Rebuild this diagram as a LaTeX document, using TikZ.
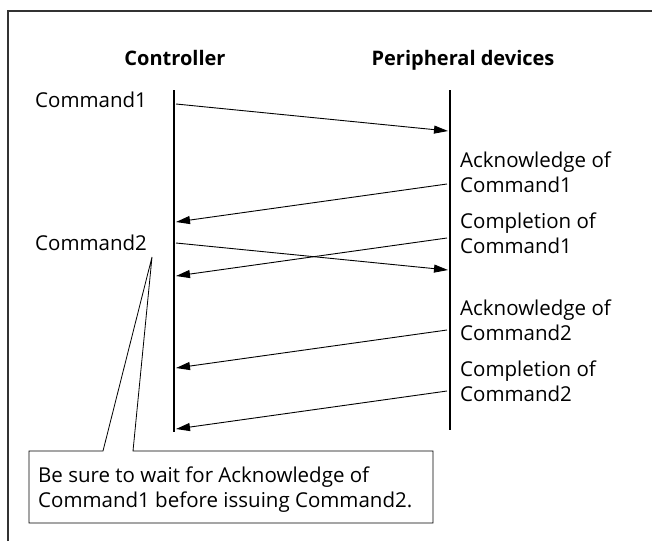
\documentclass[tikz,border=0pt]{standalone}
\usepackage{fontspec}
\setmainfont{Open Sans}
\usetikzlibrary{arrows.meta}
\begin{document}
\begin{tikzpicture}[x=1pt,y=-1pt,
  font=\fontsize{20.5}{25}\selectfont,
  life/.style={line width=2.6pt},
  msg/.style={line width=0.9pt,-{Triangle[length=14pt,width=8pt]}},
  lbl/.style={anchor=base west, align=left, inner sep=0pt},
  head/.style={anchor=base, inner sep=0pt, font=\fontsize{20}{25}\selectfont\bfseries},
  frame/.style={line width=1.2pt, draw=black!80},
  callout/.style={draw, line width=0.8pt, fill=white}]
\useasboundingbox (0,0) rectangle (652,541);
% outer frame (only left and top edges visible)
\draw[frame] (8,541) -- (8,11) -- (652,11);
% headers
\node[head] (hc) at (175,65) {Controller};
\node[head] (hp) at (463,65) {Peripheral devices};
% lifelines
\coordinate (ct) at (174,90);
\coordinate (cb) at (174,432);
\coordinate (pt) at (450,90);
\coordinate (pb) at (450,430);
\draw[life] (ct) -- (cb);
\draw[life] (pt) -- (pb);
% message endpoints
\coordinate (a1) at (176,104); \coordinate (b1) at (448,131);
\coordinate (a2) at (447,184); \coordinate (b2) at (176,222);
\coordinate (a3) at (447,238); \coordinate (b3) at (176,276);
\coordinate (a4) at (176,243); \coordinate (b4) at (448,270);
\coordinate (a5) at (447,330); \coordinate (b5) at (176,368);
\coordinate (a6) at (447,391); \coordinate (b6) at (176,429);
\draw[msg] (a1) -- (b1);
\draw[msg] (a2) -- (b2);
\draw[msg] (a3) -- (b3);
\draw[msg] (a4) -- (b4);
\draw[msg] (a5) -- (b5);
\draw[msg] (a6) -- (b6);
% labels (multi-line: base anchor is on the last line)
\node[lbl] (cmd1) at (35,107) {Command1};
\node[lbl] (cmd2) at (35,250) {Command2};
\node[lbl] (ack1) at (460,192) {Acknowledge of\\Command1};
\node[lbl] (cmp1) at (460,253) {Completion of\\Command1};
\node[lbl] (ack2) at (460,340) {Acknowledge of\\Command2};
\node[lbl] (cmp2) at (460,401) {Completion of\\Command2};
% callout
\coordinate (tip) at (152,257);
\draw[callout] (29,451) -- (103,451) -- (tip) -- (133,451) -- (433,451) -- (433,523) -- (29,523) -- cycle;
\node[lbl] (note) at (38,507) {Be sure to wait for Acknowledge of\\Command1 before issuing Command2.};
\end{tikzpicture}
\end{document}
